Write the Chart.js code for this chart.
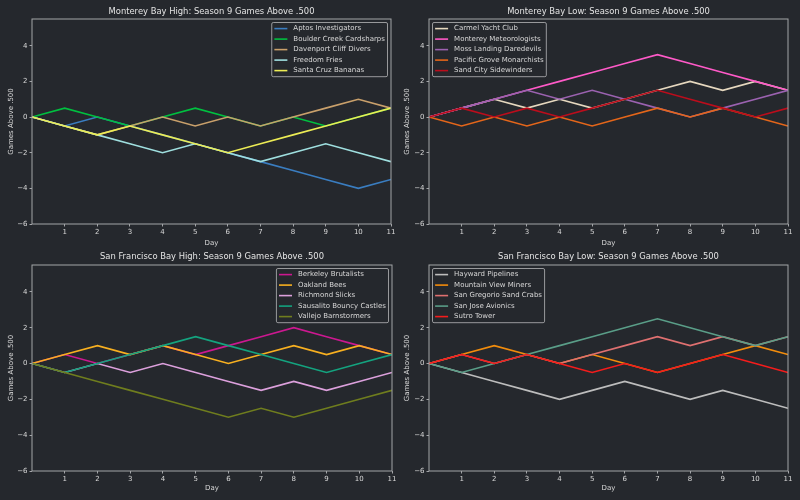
<!DOCTYPE html>
<html>
<head>
<meta charset="utf-8">
<script src="https://cdn.jsdelivr.net/npm/chart.js@4.4.1/dist/chart.umd.min.js"></script>
<style>
  html, body { margin: 0; padding: 0; background: #25282d; }
  #wrap { position: relative; width: 800px; height: 500px; overflow: hidden; }
  .panel { position: absolute; width: 400px; height: 250px; }
</style>
</head>
<body>
<div id="wrap">
  <div class="panel" style="left:0;top:0"><canvas id="c0"></canvas></div>
  <div class="panel" style="left:400px;top:0"><canvas id="c1"></canvas></div>
  <div class="panel" style="left:0;top:250px"><canvas id="c2"></canvas></div>
  <div class="panel" style="left:400px;top:250px"><canvas id="c3"></canvas></div>
</div>
<script>
const days = [0, 1, 2, 3, 4, 5, 6, 7, 8, 9, 10, 11];
const xTicks = [1, 2, 3, 4, 5, 6, 7, 8, 9, 10, 11];
const yTicks = [-6, -4, -2, 0, 2, 4];

// Monterey Bay High
const mbhTeams = ["Aptos Investigators", "Boulder Creek Cardsharps", "Davenport Cliff Divers", "Freedom Fries", "Santa Cruz Bananas"];
const aptos     = [0, -0.5, 0, -0.5, -1, -1.5, -2, -2.5, -3, -3.5, -4, -3.5];
const boulder   = [0, 0.5, 0, -0.5, 0, 0.5, 0, -0.5, 0, -0.5, 0, 0.5];
const davenport = [0, -0.5, -1, -0.5, 0, -0.5, 0, -0.5, 0, 0.5, 1, 0.5];
const freedom   = [0, -0.5, -1, -1.5, -2, -1.5, -2, -2.5, -2, -1.5, -2, -2.5];
const santaCruz = [0, -0.5, -1, -0.5, -1, -1.5, -2, -1.5, -1, -0.5, 0, 0.5];

// Monterey Bay Low
const mblTeams = ["Carmel Yacht Club", "Monterey Meteorologists", "Moss Landing Daredevils", "Pacific Grove Monarchists", "Sand City Sidewinders"];
const carmel    = [0, 0.5, 1, 0.5, 1, 0.5, 1, 1.5, 2, 1.5, 2, 1.5];
const monterey  = [0, 0.5, 1, 1.5, 2, 2.5, 3, 3.5, 3, 2.5, 2, 1.5];
const mossLanding = [0, 0.5, 1, 1.5, 1, 1.5, 1, 0.5, 0, 0.5, 1, 1.5];
const pacificGrove = [0, -0.5, 0, -0.5, 0, -0.5, 0, 0.5, 0, 0.5, 0, -0.5];
const sandCity  = [0, 0.5, 0, 0.5, 0, 0.5, 1, 1.5, 1, 0.5, 0, 0.5];

// San Francisco Bay High
const sfhTeams = ["Berkeley Brutalists", "Oakland Bees", "Richmond Slicks", "Sausalito Bouncy Castles", "Vallejo Barnstormers"];
const berkeley  = [0, 0.5, 0, 0.5, 1, 0.5, 1, 1.5, 2, 1.5, 1, 0.5];
const oakland   = [0, 0.5, 1, 0.5, 1, 0.5, 0, 0.5, 1, 0.5, 1, 0.5];
const richmond  = [0, -0.5, 0, -0.5, 0, -0.5, -1, -1.5, -1, -1.5, -1, -0.5];
const sausalito = [0, -0.5, 0, 0.5, 1, 1.5, 1, 0.5, 0, -0.5, 0, 0.5];
const vallejo   = [0, -0.5, -1, -1.5, -2, -2.5, -3, -2.5, -3, -2.5, -2, -1.5];

// San Francisco Bay Low
const sflTeams = ["Hayward Pipelines", "Mountain View Miners", "San Gregorio Sand Crabs", "San Jose Avionics", "Sutro Tower"];
const hayward   = [0, -0.5, -1, -1.5, -2, -1.5, -1, -1.5, -2, -1.5, -2, -2.5];
const mountainView = [0, 0.5, 1, 0.5, 0, 0.5, 0, -0.5, 0, 0.5, 1, 0.5];
const sanGregorio = [0, 0.5, 0, 0.5, 0, 0.5, 1, 1.5, 1, 1.5, 1, 1.5];
const sanJose   = [0, -0.5, 0, 0.5, 1, 1.5, 2, 2.5, 2, 1.5, 1, 1.5];
const sutro     = [0, 0.5, 0, 0.5, 0, -0.5, 0, -0.5, 0, 0.5, 0, -0.5];

const mbhColors = ["#3a7dc0", "#00c040", "#c9a06b", "#9fdfdf", "#ecec55"];
const mblColors = ["#e6d8bf", "#ff5ac8", "#9b62b0", "#e4661a", "#bb0d1c"];
const sfhColors = ["#cc1890", "#f8b020", "#dca0dc", "#14a37f", "#6f7d1e"];
const sflColors = ["#bdbdbd", "#f28c0c", "#df7070", "#5a9e88", "#f41c1c"];

const TXT = "#d8d8d8";
const SPINE = "#a3a5a8";
const FONT = '"DejaVu Sans", sans-serif';

// title centred on the plot area, frame around it, legend inside it
const framePlugin = {
  id: "frameLegend",
  afterDatasetsDraw(chart, args, opts) {
    const { ctx, chartArea: a } = chart;
    ctx.save();
    ctx.strokeStyle = SPINE;
    ctx.lineWidth = 1;
    ctx.strokeRect(a.left, a.top, a.right - a.left, a.bottom - a.top);

    ctx.fillStyle = "#e4e4e4";
    ctx.font = "8.4px " + FONT;
    ctx.textAlign = "center";
    ctx.textBaseline = "middle";
    ctx.fillText(opts.title, (a.left + a.right) / 2, opts.titleY);

    const fs = 7, pad = 2.6, hl = 13, hp = 6, gap = 3.5, row = 10.5;
    ctx.font = fs + "px " + FONT;
    const ds = chart.data.datasets;
    const tw = Math.max(...ds.map(d => ctx.measureText(d.label).width));
    const w = pad * 2 + hl + hp + tw;
    const h = pad * 2 + ds.length * fs + (ds.length - 1) * gap;
    const x = opts.corner === "right" ? a.right - gap - w : a.left + gap;
    const y = a.top + gap;
    ctx.beginPath();
    ctx.roundRect(x, y, w, h, 1.5);
    ctx.fillStyle = "rgba(37,40,45,0.8)";
    ctx.fill();
    ctx.strokeStyle = "#a6a7a9";
    ctx.lineWidth = 0.9;
    ctx.stroke();
    ds.forEach((d, i) => {
      const cy = y + pad + fs / 2 + i * row;
      ctx.strokeStyle = d.borderColor;
      ctx.lineWidth = 1.6;
      ctx.beginPath();
      ctx.moveTo(x + pad, cy);
      ctx.lineTo(x + pad + hl, cy);
      ctx.stroke();
      ctx.fillStyle = TXT;
      ctx.textBaseline = "middle";
      ctx.textAlign = "left";
      ctx.fillText(d.label, x + pad + hl + hp, cy);
    });
    ctx.restore();
  }
};

const panels = [
  { id: "c0", title: "Monterey Bay High: Season 9 Games Above .500", teams: mbhTeams,
    series: [aptos, boulder, davenport, freedom, santaCruz], colors: mbhColors, corner: "right",
    yW: 32, padR: 9, top: 19, titleY: 11.5, xH: 26, dayPad: 3.1, yTitlePad: 6.5 },
  { id: "c1", title: "Monterey Bay Low: Season 9 Games Above .500", teams: mblTeams,
    series: [carmel, monterey, mossLanding, pacificGrove, sandCity], colors: mblColors, corner: "left",
    yW: 29, padR: 12, top: 19, titleY: 11.5, xH: 26, dayPad: 3.1, yTitlePad: 2.5 },
  { id: "c2", title: "San Francisco Bay High: Season 9 Games Above .500", teams: sfhTeams,
    series: [berkeley, oakland, richmond, sausalito, vallejo], colors: sfhColors, corner: "right",
    yW: 32, padR: 8, top: 15, titleY: 7.3, xH: 29, dayPad: 7.4, yTitlePad: 6.5 },
  { id: "c3", title: "San Francisco Bay Low: Season 9 Games Above .500", teams: sflTeams,
    series: [hayward, mountainView, sanGregorio, sanJose, sutro], colors: sflColors, corner: "left",
    yW: 29, padR: 12, top: 15, titleY: 7.3, xH: 29, dayPad: 7.4, yTitlePad: 2.5 }
];

const tickFont = { family: FONT, size: 7 };

panels.forEach(p => {
  new Chart(document.getElementById(p.id), {
    type: "line",
    data: {
      datasets: p.teams.map((name, i) => ({
        label: name,
        data: days.map((d, j) => ({ x: d, y: p.series[i][j] })),
        borderColor: p.colors[i],
        borderWidth: 1.6,
        pointRadius: 0,
        tension: 0,
        fill: false,
        order: p.teams.length - i   // later teams drawn on top
      }))
    },
    options: {
      responsive: true,
      maintainAspectRatio: false,
      animation: false,
      devicePixelRatio: 1,
      layout: { padding: { left: 0, right: p.padR, top: p.top, bottom: 0 } },
      plugins: {
        legend: { display: false },
        tooltip: { enabled: false },
        title: { display: false },
        frameLegend: { corner: p.corner, title: p.title, titleY: p.titleY }
      },
      scales: {
        x: {
          type: "linear",
          min: 0,
          max: 11,
          afterBuildTicks: s => { s.ticks = xTicks.map(v => ({ value: v })); },
          afterFit: s => { s.height = p.xH; },
          border: { display: false },
          grid: { drawOnChartArea: false, drawTicks: true, tickLength: 2.5, color: SPINE },
          ticks: { color: TXT, font: tickFont, padding: 1.5, maxRotation: 0, autoSkip: false,
                   callback: v => String(v) },
          title: { display: true, text: "Day", color: TXT, font: tickFont,
                   padding: { top: 0, bottom: p.dayPad } }
        },
        y: {
          type: "linear",
          min: -6,
          max: 5.5,
          afterBuildTicks: s => { s.ticks = yTicks.map(v => ({ value: v })); },
          afterFit: s => { s.width = p.yW; },
          border: { display: false },
          grid: { drawOnChartArea: false, drawTicks: true, tickLength: 2.5, color: SPINE },
          ticks: { color: TXT, font: tickFont, padding: 2,
                   callback: v => v < 0 ? "\u2212" + Math.abs(v) : String(v) },
          title: { display: true, text: "Games Above .500", color: TXT, font: tickFont,
                   padding: { top: p.yTitlePad, bottom: 0 } }
        }
      }
    },
    plugins: [framePlugin]
  });
});
</script>
</body>
</html>
